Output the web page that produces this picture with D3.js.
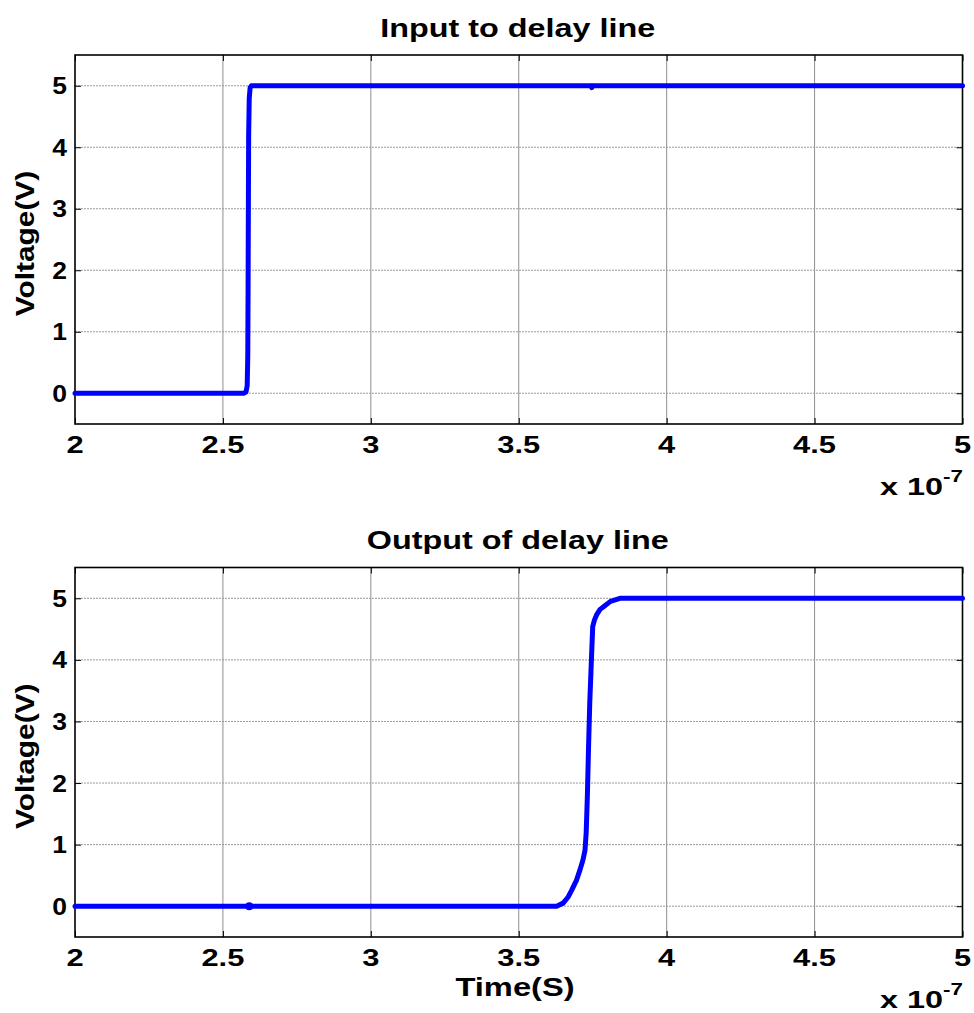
<!DOCTYPE html>
<html>
<head>
<meta charset="utf-8">
<script src="https://cdn.jsdelivr.net/npm/d3@7"></script>
<style>
  html, body { margin: 0; padding: 0; background: #fff; }
  svg { display: block; }
  text { font-family: "Liberation Sans", Arial, sans-serif; font-weight: bold; fill: #000; }
</style>
</head>
<body>
<svg id="chart" width="974" height="1013"></svg>
<script>
// Time axis in units of 1e-7 s, voltage in volts
const xTicks = [2, 2.5, 3, 3.5, 4, 4.5, 5];
const xTickLabels = ["2", "2.5", "3", "3.5", "4", "4.5", "5"];
const yTicks = [0, 1, 2, 3, 4, 5];
const yTickLabels = ["0", "1", "2", "3", "4", "5"];

// Input waveform: sharp step near 2.585e-7 s
const inputTime  = [2.0, 2.570, 2.578, 2.582, 2.584, 2.585, 2.586, 2.587, 2.589, 2.592, 2.596, 3.744, 3.747, 3.750, 5.0];
const inputVolts = [0,   0,     0.02,  0.12,  0.6,   1.6,   3.0,   4.2,   4.8,   4.97,  5,     5,     4.97,  5,     5];

// Output waveform: delayed, smoother rise near 3.74e-7 s
const outputTime  = [2.0, 3.628, 3.650, 3.667, 3.679, 3.695, 3.707, 3.717, 3.724, 3.728, 3.732, 3.736, 3.740, 3.744, 3.746, 3.750, 3.756, 3.763, 3.775, 3.791, 3.810, 3.842, 5.0];
const outputVolts = [0,   0,     0.05,  0.15,  0.26,  0.42,  0.59,  0.75,  0.91,  1.2,   1.8,   2.6,   3.3,   3.8,   4.05,  4.54,  4.65,  4.73,  4.82,  4.88,  4.95,  5,     5];

// Isolated sample markers
const inputDots  = [[3.747, 4.99]];
const outputDots = [[2.589, 0]];
const dotRadius  = [2.8, 4];

const titles = ["Input to delay line", "Output of delay line"];
const yLabel = "Voltage(V)";
const xLabel = "Time(S)";

const svg = d3.select("#chart");
const W = 1.26; // horizontal glyph widening used for the labels

function widen(sel, f) {
  sel.each(function () {
    const len = this.getComputedTextLength();
    d3.select(this).attr("textLength", len * f).attr("lengthAdjust", "spacingAndGlyphs");
  });
  return sel;
}

const left = 75, right = 962.5;
const panels = [
  { top: 55,    bottom: 424, time: inputTime,  volts: inputVolts,  dots: inputDots,  r: dotRadius[0], title: titles[0], xlab: false },
  { top: 567.5, bottom: 937, time: outputTime, volts: outputVolts, dots: outputDots, r: dotRadius[1], title: titles[1], xlab: true }
];

panels.forEach(p => {
  const x = d3.scaleLinear().domain([2, 5]).range([left, right]);
  const y = d3.scaleLinear().domain([-0.5, 5.5]).range([p.bottom, p.top]);
  const g = svg.append("g");

  // grid
  g.append("g").selectAll("line").data(xTicks.slice(1, -1)).join("line")
    .attr("x1", d => x(d)).attr("x2", d => x(d))
    .attr("y1", p.top).attr("y2", p.bottom)
    .attr("stroke", "#8f8f8f").attr("stroke-width", 1);
  g.append("g").selectAll("line").data(yTicks).join("line")
    .attr("x1", left).attr("x2", right)
    .attr("y1", d => y(d)).attr("y2", d => y(d))
    .attr("stroke", "#9a9a9a").attr("stroke-width", 1).attr("stroke-dasharray", "2,1");

  // axes with inward ticks on all four sides
  const tk = 6;
  const axB = g.append("g").attr("transform", `translate(0,${p.bottom})`)
    .call(d3.axisBottom(x).tickValues(xTicks).tickSize(-tk).tickFormat(""));
  const axT = g.append("g").attr("transform", `translate(0,${p.top})`)
    .call(d3.axisTop(x).tickValues(xTicks).tickSize(-tk).tickFormat(""));
  const axL = g.append("g").attr("transform", `translate(${left},0)`)
    .call(d3.axisLeft(y).tickValues(yTicks).tickSize(-tk).tickFormat(""));
  const axR = g.append("g").attr("transform", `translate(${right},0)`)
    .call(d3.axisRight(y).tickValues(yTicks).tickSize(-tk).tickFormat(""));
  [axB, axT, axL, axR].forEach(a => {
    a.select(".domain").remove();
    a.selectAll("line").attr("stroke", "#000").attr("stroke-width", 1);
  });

  // box
  g.append("rect").attr("x", left).attr("y", p.top)
    .attr("width", right - left).attr("height", p.bottom - p.top)
    .attr("fill", "none").attr("stroke", "#000").attr("stroke-width", 1.6);

  // tick labels
  widen(g.append("g").selectAll("text").data(xTicks).join("text")
    .attr("x", d => x(d)).attr("y", p.bottom + 28.5)
    .attr("text-anchor", "middle").attr("font-size", 24.5)
    .text((d, i) => xTickLabels[i]), W);
  widen(g.append("g").selectAll("text").data(yTicks).join("text")
    .attr("x", left - 8).attr("y", d => y(d) + 8.5)
    .attr("text-anchor", "end").attr("font-size", 24.5)
    .text((d, i) => yTickLabels[i]), 1.08);

  // exponent label
  const ex = g.append("text").attr("x", 880).attr("y", p.bottom + 71).attr("font-size", 24.5);
  ex.append("tspan").text("x 10");
  ex.append("tspan").attr("font-size", 17).attr("dy", -13).text("-7");
  ex.attr("textLength", 83).attr("lengthAdjust", "spacingAndGlyphs");

  // title
  widen(g.append("text").attr("x", (left + right) / 2 - 1).attr("y", p.top - 18.5)
    .attr("text-anchor", "middle").attr("font-size", 26.5).text(p.title), 1.22);

  // y label
  const cy = (p.top + p.bottom) / 2 + 4;
  widen(g.append("text").attr("transform", `translate(34,${cy}) rotate(-90)`)
    .attr("text-anchor", "middle").attr("font-size", 25.5).text(yLabel), 1.17);

  if (p.xlab) {
    widen(g.append("text").attr("x", 515).attr("y", 996)
      .attr("text-anchor", "middle").attr("font-size", 25.5).text(xLabel), 1.28);
  }

  // waveform
  const pts = p.time.map((t, i) => [t, p.volts[i]]);
  g.append("path").datum(pts)
    .attr("d", d3.line().x(d => x(d[0])).y(d => y(d[1])))
    .attr("fill", "none").attr("stroke", "#0000ff").attr("stroke-width", 5)
    .attr("stroke-linejoin", "round").attr("stroke-linecap", "round");
  g.append("g").selectAll("circle").data(p.dots).join("circle")
    .attr("cx", d => x(d[0])).attr("cy", d => y(d[1])).attr("r", p.r)
    .attr("fill", "#0000ff");
});
</script>
</body>
</html>
